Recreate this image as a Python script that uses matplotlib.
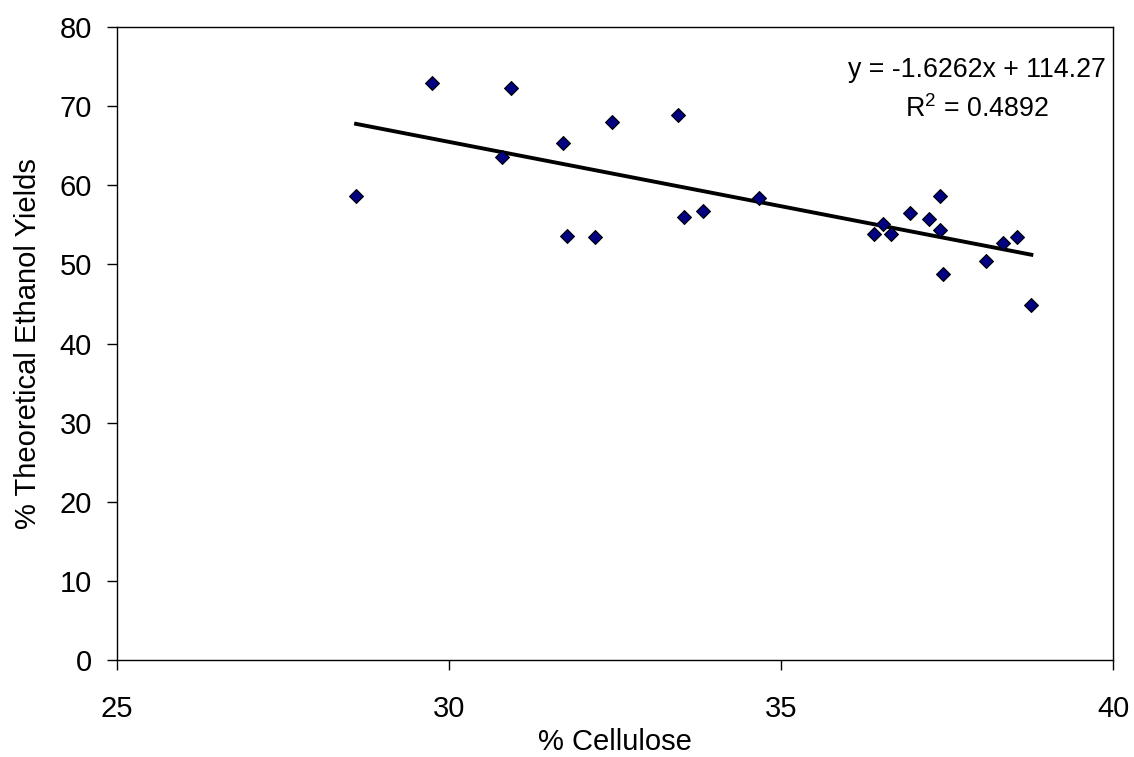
import matplotlib.pyplot as plt

plt.rcParams['font.family'] = ['Liberation Sans', 'DejaVu Sans']
plt.rcParams['mathtext.default'] = 'regular'

# % cellulose vs % theoretical ethanol yield
cellulose = [28.60, 29.75, 30.80, 30.93, 31.71, 31.77, 32.20, 32.45, 33.45, 33.54,
             33.83, 34.67, 36.40, 36.54, 36.66, 36.94, 37.23, 37.39, 37.39, 37.44,
             38.08, 38.35, 38.56, 38.77]
yields = [58.6, 72.9, 63.6, 72.3, 65.4, 53.6, 53.4, 68.0, 68.9, 56.0,
          56.8, 58.4, 53.8, 55.1, 53.9, 56.5, 55.8, 58.7, 54.4, 48.8,
          50.4, 52.7, 53.4, 44.9]

slope = -1.6262
intercept = 114.27
r_squared = 0.4892

x_ticks = [25, 30, 35, 40]
y_ticks = [0, 10, 20, 30, 40, 50, 60, 70, 80]

fig = plt.figure(figsize=(11.34, 7.57), dpi=100)
ax = fig.add_axes([0.1032, 0.1281, 0.8783, 0.8362])

x0, x1 = min(cellulose), max(cellulose)
ax.plot([x0, x1], [slope * x0 + intercept, slope * x1 + intercept],
        color='black', lw=2.8, zorder=2)
ax.scatter(cellulose, yields, marker='D', s=50, color='#000080',
           edgecolors='black', linewidths=0.8, zorder=3)

ax.set_xlim(25, 40)
ax.set_ylim(0, 80)
ax.set_xticks(x_ticks)
ax.set_yticks(y_ticks)
ax.tick_params(direction='out', length=7, width=1, labelsize=21)
ax.tick_params(axis='y', pad=11)
ax.tick_params(axis='x', pad=18)
for sp in ax.spines.values():
    sp.set_color('black')
    sp.set_linewidth(1)

ax.set_xlabel('% Cellulose', fontsize=21, labelpad=4)
ax.set_ylabel('% Theoretical Ethanol Yields', fontsize=21, labelpad=13)

ax.text(0.863, 0.953, f'y = {slope}x + {intercept}\nR$^2$ = {r_squared}',
        transform=ax.transAxes, ha='center', va='top', fontsize=19.3,
        linespacing=1.55)

fig.savefig('out.png', dpi=100)
